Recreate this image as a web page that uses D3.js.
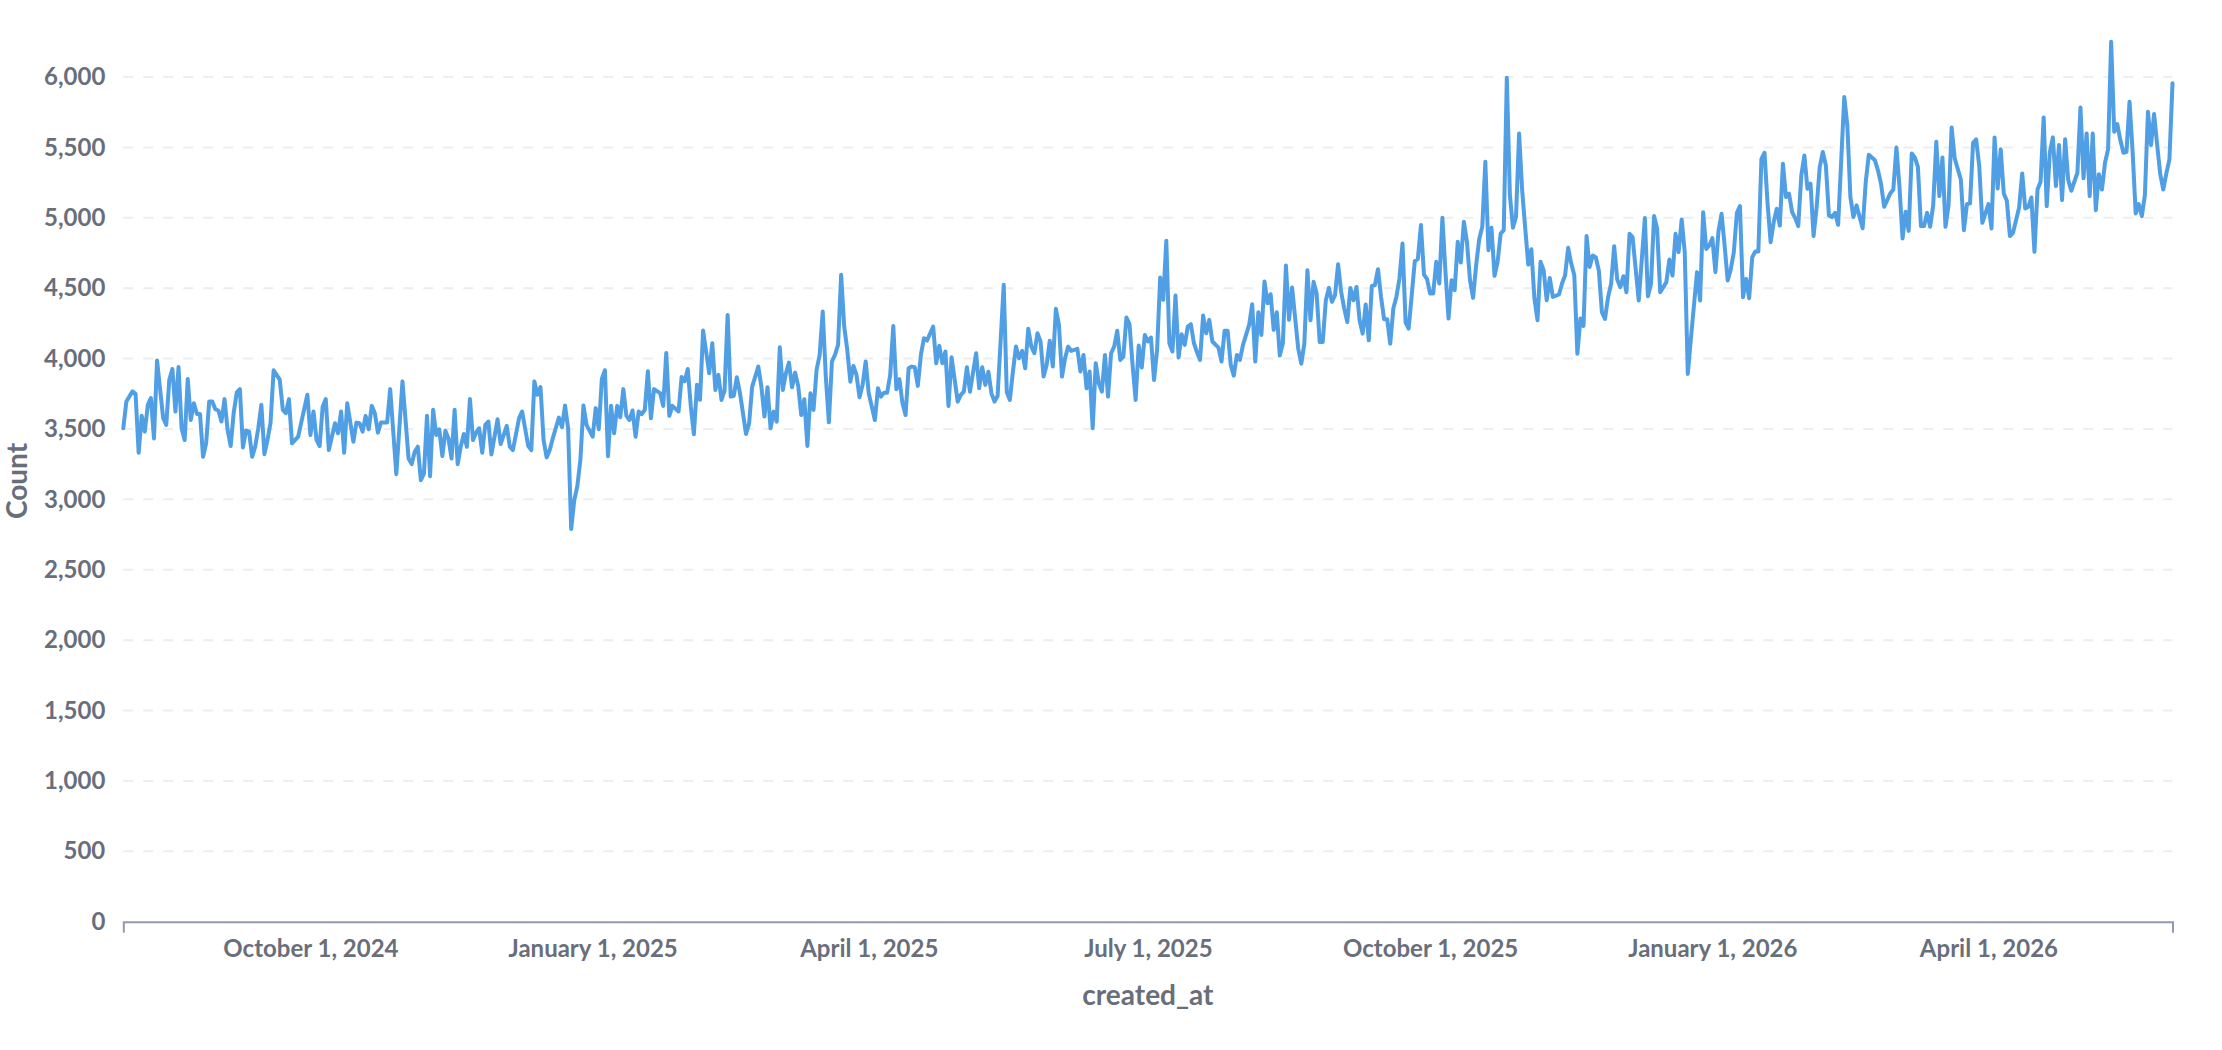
<!DOCTYPE html>
<html>
<head>
<meta charset="utf-8">
<script src="https://cdn.jsdelivr.net/npm/d3@7/dist/d3.min.js"></script>
<style>
  html, body { margin: 0; padding: 0; background: #ffffff; }
  svg { display: block; }
  text { font-family: "Lato", "Noto Sans", sans-serif; font-weight: 700; }
</style>
</head>
<body>
<svg id="chart" width="2222" height="1050"></svg>
<script>
// ---- data ----
const startDate = "2024-08-01";   // first day of the series
const endDate = "2026-05-31";     // last day of the series
// day offsets from startDate
const days = [
0,1,3,4,5,6,7,8,9,10,11,13,14,15,16,17,18,19,20,21,22,23,24,25,26,27,28,29,30,31,32,33,34,35,36,37,38,39,40,41,42,43,44,45,46,47,48,49,51,52,53,54,55,57,58,60,61,62,63,64,65,66,67,69,70,71,72,73,75,76,77,78,79,80,81,82,83,84,86,87,89,91,93,94,95,96,97,
98,99,100,101,102,103,104,105,106,107,108,109,110,111,112,113,114,115,116,117,118,119,120,122,123,125,126,127,129,130,132,133,134,135,136,137,138,139,140,142,143,144,145,146,147,148,149,150,151,153,154,155,156,157,158,159,160,161,162,163,164,165,166,167,168,169,170,171,172,173,175,176,177,178,179,181,182,183,184,185,186,187,188,189,
191,192,193,194,195,196,197,198,199,200,201,203,204,205,207,208,209,210,211,212,213,214,215,216,217,218,219,220,221,222,223,224,225,226,227,228,229,230,231,232,233,234,235,236,237,238,239,240,241,242,243,245,246,247,248,249,250,251,252,253,254,255,256,257,258,259,260,261,262,264,265,266,267,268,269,270,272,273,274,275,276,278,279,280,281,282,283,284,285,287,
288,289,290,291,292,293,294,295,296,297,298,299,300,301,302,303,304,305,306,307,308,309,311,312,313,314,315,316,317,318,319,320,321,322,323,324,325,326,327,328,329,330,331,332,333,334,335,336,337,338,339,340,341,342,343,344,345,346,347,348,349,350,351,352,353,354,355,357,358,359,360,361,362,363,364,365,367,368,369,370,371,372,373,374,375,376,377,378,379,380,381,
383,384,385,386,387,388,389,390,391,392,393,394,395,396,397,398,399,400,401,402,403,404,405,406,407,408,409,410,411,412,413,414,415,416,417,418,419,420,421,422,423,424,425,426,427,428,429,430,431,432,433,434,435,436,437,438,439,440,441,442,443,444,445,446,447,448,449,450,451,452,453,454,455,456,457,458,459,460,461,462,463,464,465,466,468,469,470,471,472,473,474,475,476,477,
478,479,480,481,482,483,484,485,486,487,488,489,490,491,492,494,496,497,498,499,500,501,503,504,505,506,507,508,509,510,511,513,514,515,516,517,518,519,520,521,522,523,524,525,526,527,528,529,530,531,532,533,534,535,536,537,538,539,540,541,542,543,544,545,546,547,548,549,550,551,552,553,554,555,556,557,558,559,561,562,563,564,565,567,568,569,571,572,573,
574,576,577,578,579,580,581,582,583,584,585,586,587,588,589,590,591,592,593,594,595,596,597,599,600,601,602,603,604,605,606,608,609,610,611,612,613,614,615,616,618,619,620,621,622,623,624,625,626,627,628,629,630,631,632,633,634,635,637,638,639,640,641,642,643,644,645,646,647,648,649,650,651,652,653,654,655,656,657,658,659,660,661,662,663,664,665,666,667,668
];
const counts = [
3505,3695,3767,3750,3331,3593,3481,3671,3719,3433,3986,3576,3529,3850,3926,3624,3940,3505,3421,3855,3564,3683,3607,3607,3302,3398,3695,3695,3640,3631,3553,3712,3493,3379,3617,3760,3783,3369,3488,3481,3302,3374,3505,3671,3321,3421,3545,3917,3850,3636,3612,3712,3398,3445,3545,3743,3457,3624,3421,3379,3660,3712,3350,3541,3469,3624,3331,3683,3410,3545,3541,3481,3593,3498,3664,3612,3474,3545,3545,3783,3179,3838,3290,3250,3338,3374,3136,
3183,3593,3164,3636,3457,3498,3307,3488,3433,3290,3636,3250,3374,3464,3374,3712,3421,3474,3505,3331,3529,3553,3319,3569,3393,3521,3374,3350,3576,3624,3379,3350,3838,3743,3798,3421,3298,3350,3433,3581,3512,3667,3505,2790,2993,3093,3279,3667,3529,3445,3648,3498,3855,3917,3307,3664,3469,3664,3583,3783,3593,3564,3631,3445,3624,3605,3636,3910,3576,3783,3755,3664,4040,3593,3664,3624,3869,3838,3926,3660,3462,3814,3707,4200,
3896,4109,3777,3884,3706,3772,4310,3730,3735,3867,3758,3464,3540,3801,3943,3801,3588,3796,3505,3623,3552,4080,3777,3896,3971,3796,3900,3806,3599,3711,3379,3753,3635,3919,4026,4334,3872,3547,3979,4026,4097,4595,4227,4062,3836,3948,3884,3725,3813,3979,3753,3564,3789,3730,3758,3758,3884,4232,3782,3853,3682,3599,3931,3943,3938,3806,4026,4145,4128,4227,3967,4090,3967,4050,3663,4009,3694,3742,3765,3938,3765,4038,3789,3938,3813,3907,3753,3694,3734,4524,
3760,3706,3908,4085,4002,4054,3931,4211,4085,4038,4180,4121,3872,3955,4126,3943,4353,4239,3872,4002,4085,4054,4069,3908,4026,3789,3908,3505,3967,3825,3765,4026,3730,4038,4085,4197,3990,4014,4291,4244,3955,3706,4092,3936,4168,4121,4149,3848,4062,4576,4417,4837,4109,4050,4448,4007,4173,4097,4227,4244,4109,4045,3990,4306,4180,4275,4121,4078,3979,4197,4197,3955,3879,4026,3990,4097,4239,4386,3979,4329,4168,4547,4393,4457,4204,4329,4021,4109,4661,4275,4505,
4071,3964,4106,4628,4272,4545,4462,4118,4118,4414,4502,4403,4450,4670,4474,4355,4260,4502,4414,4509,4272,4177,4384,4130,4516,4521,4635,4438,4279,4279,4106,4355,4438,4569,4817,4256,4213,4450,4692,4706,4948,4597,4564,4462,4462,4687,4533,5000,4616,4284,4557,4486,4829,4682,4971,4829,4557,4431,4663,4848,4936,5398,4770,4929,4588,4687,4888,4912,5995,5161,4929,5007,5599,5197,4924,4668,4777,4426,4272,4687,4628,4414,4573,4438,4455,4533,4592,4787,4675,4592,4035,4284,4232,4870,
4650,4732,4720,4625,4329,4282,4436,4531,4798,4561,4507,4585,4471,4886,4862,4412,4998,4443,4531,5012,4922,4471,4543,4704,4590,4886,4756,4988,4756,3891,4140,4614,4412,5040,4779,4803,4855,4614,4903,5028,4803,4554,4633,4756,5035,5083,4436,4566,4429,4720,4761,4761,5419,5462,5099,4827,4969,5064,4945,5384,5147,5171,5040,4998,4941,5301,5443,5206,5242,4870,5076,5360,5467,5372,5017,5005,5035,4950,5858,5656,5147,5005,5088,4926,5254,5448,5408,5336,5240,
5078,5173,5201,5500,5220,4853,5043,4907,5457,5429,5362,4941,4941,5035,4936,5090,5540,5154,5429,4936,5090,5642,5422,5272,4912,5097,5102,5533,5557,5367,4964,5097,4924,5571,5208,5486,5173,5121,4870,4893,5073,5315,5066,5078,5144,4758,5201,5256,5713,5083,5462,5571,5225,5517,5126,5557,5268,5192,5320,5784,5280,5599,5154,5599,5054,5310,5201,5391,5486,6251,5611,5666,5552,5462,5469,5825,5469,5031,5097,5012,5161,5754,5517,5737,5517,5310,5201,5315,5415,5955
];
const yTickValues = [0,500,1000,1500,2000,2500,3000,3500,4000,4500,5000,5500,6000];
const xTickDates = ["2024-10-01","2025-01-01","2025-04-01","2025-07-01","2025-10-01","2026-01-01","2026-04-01"];
const xTitle = "created_at";
const yTitle = "Count";

// ---- drawing ----
const parse = d3.utcParse("%Y-%m-%d");
const t0 = parse(startDate);
const series = days.map((d, i) => ({ date: d3.utcDay.offset(t0, d), value: counts[i] }));

const svg = d3.select("#chart");
const plot = { left: 123.3, right: 2172.5, zeroY: 921.7, topY: 77 };
const textColor = "#696E7B";

const x = d3.scaleUtc().domain([t0, parse(endDate)]).range([plot.left, plot.right]);
const y = d3.scaleLinear().domain([0, 6000]).range([plot.zeroY, plot.topY]);

// gridlines
svg.append("g").selectAll("line")
  .data(yTickValues.filter(v => v > 0))
  .join("line")
  .attr("x1", plot.left).attr("x2", plot.right)
  .attr("y1", d => y(d)).attr("y2", d => y(d))
  .attr("stroke", "#EDEEF1").attr("stroke-width", 2)
  .attr("stroke-dasharray", "10 10");

// y axis (labels only)
const yAxis = svg.append("g")
  .attr("transform", `translate(${plot.left},0)`)
  .call(d3.axisLeft(y).tickValues(yTickValues).tickFormat(d3.format(",")).tickSize(0).tickPadding(18));
yAxis.select(".domain").remove();
yAxis.selectAll("text")
  .attr("fill", textColor).style("font-size", "24px").style("font-family", "Lato").style("font-weight", 700);

// x axis
const xAxis = svg.append("g")
  .attr("transform", `translate(0,${plot.zeroY})`)
  .call(d3.axisBottom(x)
    .tickValues(xTickDates.map(parse))
    .tickFormat(d3.utcFormat("%B %-d, %Y"))
    .tickSizeInner(0).tickSizeOuter(11).tickPadding(18.6));
xAxis.select(".domain").attr("stroke", "#949AAB").attr("stroke-width", 2);
xAxis.selectAll(".tick line").remove();
xAxis.selectAll("text")
  .attr("fill", textColor).style("font-size", "24px").style("font-family", "Lato").style("font-weight", 700);

// line
const line = d3.line().x(d => x(d.date)).y(d => y(d.value));
svg.append("path")
  .datum(series)
  .attr("d", line)
  .attr("fill", "none")
  .attr("stroke", "#509EE3")
  .attr("stroke-width", 4)
  .attr("stroke-linejoin", "round")
  .attr("stroke-linecap", "round");

// axis titles
svg.append("text")
  .attr("x", (plot.left + plot.right) / 2).attr("y", 1005)
  .attr("text-anchor", "middle")
  .attr("fill", textColor).style("font-size", "28px")
  .text(xTitle);

svg.append("text")
  .attr("transform", `translate(27,481) rotate(-90)`)
  .attr("text-anchor", "middle")
  .attr("fill", textColor).style("font-size", "28px")
  .text(yTitle);
</script>
</body>
</html>
